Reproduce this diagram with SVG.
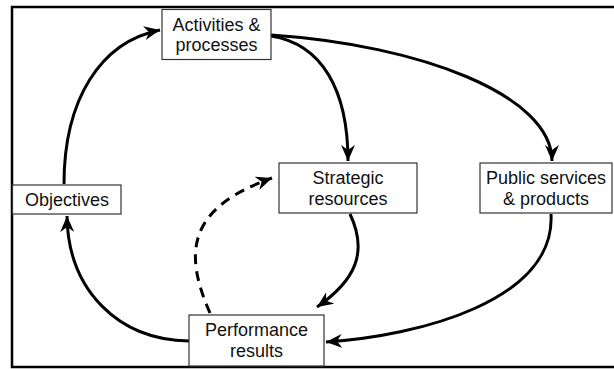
<svg xmlns="http://www.w3.org/2000/svg" width="614" height="369" viewBox="0 0 614 369">
<style>
.box{fill:#fff;stroke:#333;stroke-width:1.2}
.lbl{font-family:"Liberation Sans",Arial,sans-serif;font-size:18px;fill:#111;text-anchor:middle}
.c{fill:none;stroke:#000;stroke-width:3;marker-end:url(#ah)}
.d{stroke-dasharray:10,7}
</style>
<defs>
<marker id="ah" markerUnits="userSpaceOnUse" markerWidth="18" markerHeight="14" refX="16" refY="7" orient="auto">
<path d="M0,0 L16,7 L0,14 L5,7 Z" fill="#000"/>
</marker>
</defs>
<path d="M614,7 H12 V367 H614" fill="none" stroke="#000" stroke-width="2.5"/>
<g id="connectors">
<path class="c" d="M64,184 C64,100 100,42 160,30"/>
<path class="c" d="M271,36 C322,44 348,90 348,161"/>
<path class="c" d="M271,35 C420,45 552,95 552,161"/>
<path class="c" d="M350,214 C368,252 356,280 317,307"/>
<path class="c" d="M551,214 C556,300 420,336 326,342"/>
<path class="c" d="M189,341 C118,340 68,290 67,216"/>
<path class="c d" d="M210,313 C183,252 188,208 272,178"/>
</g>
<g id="activities">
<rect class="box" x="162" y="9.5" width="109" height="50"/>
<text class="lbl" x="216.5" y="31">Activities &amp;</text>
<text class="lbl" x="216.5" y="51">processes</text>
</g>
<g id="objectives">
<rect class="box" x="12.5" y="185" width="108.5" height="29"/>
<text class="lbl" x="67" y="206">Objectives</text>
</g>
<g id="strategic">
<rect class="box" x="279" y="163" width="138" height="50"/>
<text class="lbl" x="348" y="184">Strategic</text>
<text class="lbl" x="348" y="205">resources</text>
</g>
<g id="public">
<rect class="box" x="480" y="163" width="132" height="50"/>
<text class="lbl" x="546" y="184">Public services</text>
<text class="lbl" x="546" y="205">&amp; products</text>
</g>
<g id="performance">
<rect class="box" x="189" y="315" width="135" height="51"/>
<text class="lbl" x="256.5" y="336">Performance</text>
<text class="lbl" x="256.5" y="357">results</text>
</g>
</svg>
